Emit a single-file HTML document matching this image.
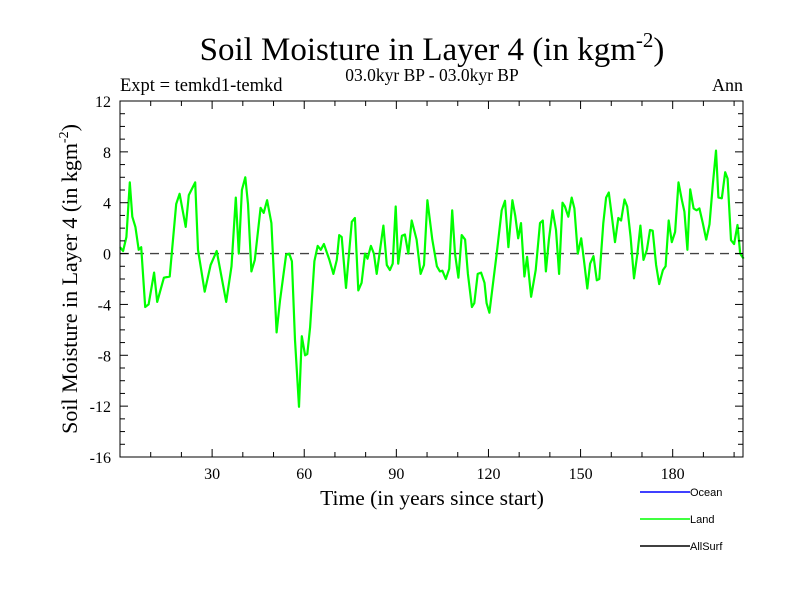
<!DOCTYPE html>
<html><head><meta charset="utf-8">
<style>
html,body{margin:0;padding:0;background:#fff;}
svg{display:block;font-family:"Liberation Serif",serif;}
</style></head>
<body>
<svg id="chart" width="800" height="600" viewBox="0 0 800 600">
<text x="432" y="60" text-anchor="middle" font-size="33">Soil Moisture in Layer 4 (in kgm<tspan dy="-13" font-size="21">-2</tspan><tspan dy="13">)</tspan></text>
<text x="432" y="81" text-anchor="middle" font-size="17.5">03.0kyr BP - 03.0kyr BP</text>
<text x="120" y="91" font-size="18.5">Expt = temkd1-temkd</text>
<text x="743" y="91" text-anchor="end" font-size="18">Ann</text>
<text x="432" y="505" text-anchor="middle" font-size="21.5">Time (in years since start)</text>
<text transform="translate(77,279) rotate(-90)" text-anchor="middle" font-size="22">Soil Moisture in Layer 4 (in kgm<tspan dy="-9" font-size="14">-2</tspan><tspan dy="9">)</tspan></text>
<g id="plot"></g>
<g font-family="Liberation Sans, sans-serif" font-size="11">
<line x1="640" y1="492" x2="690" y2="492" stroke="#0000ff" stroke-width="1.5"/>
<text x="690" y="496">Ocean</text>
<line x1="640" y1="519" x2="690" y2="519" stroke="#00ff00" stroke-width="1.5"/>
<text x="690" y="523">Land</text>
<line x1="640" y1="546" x2="690" y2="546" stroke="#000" stroke-width="1.5"/>
<text x="690" y="550">AllSurf</text>
</g>
</svg>
<script>
const years = [0,1.0,2.1,3.2,4.0,5.0,6.1,6.9,8.2,9.3,11.1,12.1,14.3,16.2,18.3,19.4,21.4,22.4,24.5,25.4,27.6,29.5,31.5,34.6,36.3,37.7,38.7,39.7,40.8,41.7,42.8,43.9,45.8,46.8,47.9,49.3,51.0,52.1,54.1,55.1,56.0,57.0,58.3,59.2,60.3,61.0,61.9,63.3,64.4,65.4,66.4,68.2,69.5,70.6,71.4,72.2,73.6,75.5,76.5,77.6,78.7,79.8,80.6,81.7,82.7,83.6,85.8,86.9,87.9,88.8,89.8,90.6,91.8,92.8,93.9,95.0,96.6,97.9,99.0,100.1,101.7,103.2,104.2,105.0,106.1,107.2,108.2,109.1,110.2,111.3,112.4,113.3,114.6,115.4,116.5,117.6,118.7,119.4,120.3,121.6,122.7,124.3,125.4,126.5,127.8,128.7,129.7,130.6,131.7,132.6,133.9,135.4,136.8,137.7,138.7,139.7,140.9,142.0,143.0,144.1,144.9,146.0,147.1,148.0,149.1,150.2,151.1,152.2,153.1,154.2,155.3,156.1,157.4,158.3,159.2,160.2,161.2,162.3,163.2,164.3,165.2,166.3,167.4,168.5,169.5,170.5,171.6,172.6,173.5,174.6,175.6,176.8,177.7,178.7,179.7,180.8,181.9,183.0,183.8,184.8,185.7,186.8,187.8,188.7,189.8,190.9,192.0,193.1,194.1,194.9,196.0,197.1,197.9,199.0,200.0,201.1,202.0,203.1];
const landValues = [0.5,0.2,1.3,5.6,2.9,2.1,0.3,0.5,-4.2,-4.0,-1.5,-3.8,-1.9,-1.8,3.9,4.7,2.1,4.6,5.6,0.3,-3.0,-0.9,0.2,-3.8,-1.0,4.4,0.0,5.0,6.0,3.9,-1.4,-0.5,3.6,3.2,4.2,2.4,-6.2,-3.7,-0.1,0,-0.6,-6.8,-12.05,-6.5,-8.0,-7.9,-5.8,-0.6,0.6,0.3,0.75,-0.5,-1.6,-0.5,1.45,1.3,-2.7,2.5,2.8,-2.9,-2.3,0,-0.4,0.6,0,-1.6,2.2,-0.9,-1.3,-0.8,3.7,-0.8,1.4,1.5,0,2.6,1.1,-1.6,-0.9,4.2,1.1,-1.0,-1.4,-1.35,-2.0,-1.2,3.4,0,-1.9,1.45,1.1,-1.6,-4.2,-3.9,-1.6,-1.5,-2.3,-3.9,-4.65,-2.1,0,3.4,4.15,0.5,4.2,3.0,1.2,2.4,-1.8,-0.25,-3.4,-1.3,2.4,2.6,-1.4,1.1,3.4,1.85,-1.6,4.0,3.7,2.9,4.4,3.55,0,1.2,-0.5,-2.75,-0.8,-0.2,-2.1,-2.0,2.4,4.4,4.8,2.9,0.9,2.8,2.6,4.25,3.7,1.3,-1.95,0,2.2,-0.5,0.3,1.85,1.8,-0.9,-2.4,-1.3,-1.0,2.6,0.9,1.7,5.6,4.2,3.3,0.3,5.05,3.55,3.4,3.55,2.4,1.1,2.3,5.5,8.1,4.4,4.35,6.4,5.9,1.05,0.75,2.25,0,-0.4];
const xTickLabels = [30,60,90,120,150,180];
const yTickLabels = [12,8,4,0,-4,-8,-12,-16];

const NS='http://www.w3.org/2000/svg';
const L=120,R=743,T=101,B=457, X0=0,X1=202.9, Y0=-16,Y1=12;
const xs=v=>L+(v-X0)/(X1-X0)*(R-L);
const ys=v=>B-(v-Y0)/(Y1-Y0)*(B-T);
const g=document.getElementById('plot');
function mk(tag,attrs){const e=document.createElementNS(NS,tag);for(const k in attrs)e.setAttribute(k,attrs[k]);g.appendChild(e);return e;}

const zl=mk('line',{x1:L,x2:R,y1:ys(0),y2:ys(0),stroke:'#444','stroke-width':1.3,'stroke-dasharray':'9,6'});



const pts=years.map((y,i)=>xs(y).toFixed(1)+','+ys(landValues[i]).toFixed(1)).join(' ');
const ln=mk('polyline',{points:pts,fill:'none',stroke:'#00ff00','stroke-width':2.2,'stroke-linejoin':'round'});



const fr=mk('rect',{x:L,y:T,width:R-L,height:B-T,fill:'none',stroke:'#000','stroke-width':1});



for(let v=10;v<X1;v+=10){
  const major=v%30===0, len=major?8:5;
  mk('line',{x1:xs(v),x2:xs(v),y1:B,y2:B-len,stroke:'#000'});
  mk('line',{x1:xs(v),x2:xs(v),y1:T,y2:T+len,stroke:'#000'});
}
xTickLabels.forEach(v=>{
  const t=mk('text',{x:xs(v),y:B+22,'text-anchor':'middle','font-size':16});
  t.textContent=v;
  
  
});
for(let v=Y0+1;v<Y1;v+=1){
  const major=v%4===0, len=major?8:5;
  mk('line',{x1:L,x2:L+len,y1:ys(v),y2:ys(v),stroke:'#000'});
  mk('line',{x1:R,x2:R-len,y1:ys(v),y2:ys(v),stroke:'#000'});
}
yTickLabels.forEach(v=>{
  const t=mk('text',{x:L-9,y:ys(v)+6,'text-anchor':'end','font-size':16});
  t.textContent=v;
  
  
});
</script>
</body></html>
